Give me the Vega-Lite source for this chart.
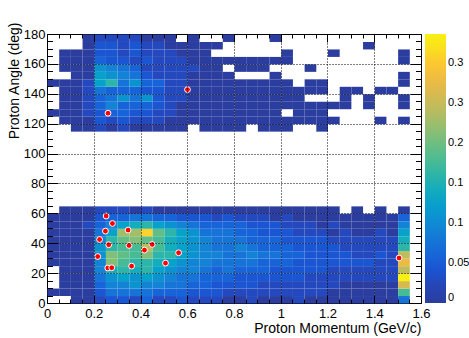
{
"$schema": "https://vega.github.io/schema/vega-lite/v6.json",
"width": 374, "height": 269,
"autosize": {"type": "none"},
"padding": {"left": 47, "top": 34, "right": 48, "bottom": 35},
"background": "white",
"config": {"view": {"stroke": "black", "strokeWidth": 1}, "font": "Liberation Sans"},
"datasets": {
"h": [
{"p":0.1,"a":0,"v":0.008},{"p":0.15,"a":0,"v":0.008},{"p":0.2,"a":0,"v":0.025},{"p":0.25,"a":0,"v":0.042},{"p":0.3,"a":0,"v":0.042},{"p":0.35,"a":0,"v":0.025},{"p":0.4,"a":0,"v":0.059},{"p":0.45,"a":0,"v":0.025},{"p":0.5,"a":0,"v":0.025},{"p":0.55,"a":0,"v":0.042},{"p":0.6,"a":0,"v":0.025},{"p":0.65,"a":0,"v":0.025},{"p":0.7,"a":0,"v":0.025},{"p":0.75,"a":0,"v":0.008},{"p":0.8,"a":0,"v":0.008},{"p":0.85,"a":0,"v":0.025},{"p":0.9,"a":0,"v":0.008},{"p":0.95,"a":0,"v":0.008},{"p":1,"a":0,"v":0.008},{"p":1.05,"a":0,"v":0.025},{"p":1.1,"a":0,"v":0.008},{"p":1.15,"a":0,"v":0.008},{"p":1.2,"a":0,"v":0.008},{"p":1.25,"a":0,"v":0.008},{"p":1.3,"a":0,"v":0.008},{"p":1.35,"a":0,"v":0.008},{"p":1.4,"a":0,"v":0.008},{"p":1.45,"a":0,"v":0.008},{"p":1.5,"a":0,"v":0.076},
{"p":0,"a":5,"v":0.008},{"p":0.05,"a":5,"v":0.008},{"p":0.1,"a":5,"v":0.008},{"p":0.15,"a":5,"v":0.008},{"p":0.2,"a":5,"v":0.042},{"p":0.25,"a":5,"v":0.076},{"p":0.3,"a":5,"v":0.076},{"p":0.35,"a":5,"v":0.076},{"p":0.4,"a":5,"v":0.076},{"p":0.45,"a":5,"v":0.059},{"p":0.5,"a":5,"v":0.059},{"p":0.55,"a":5,"v":0.059},{"p":0.6,"a":5,"v":0.042},{"p":0.65,"a":5,"v":0.042},{"p":0.7,"a":5,"v":0.042},{"p":0.75,"a":5,"v":0.025},{"p":0.8,"a":5,"v":0.025},{"p":0.85,"a":5,"v":0.025},{"p":0.9,"a":5,"v":0.025},{"p":0.95,"a":5,"v":0.025},{"p":1,"a":5,"v":0.025},{"p":1.05,"a":5,"v":0.025},{"p":1.1,"a":5,"v":0.025},{"p":1.15,"a":5,"v":0.025},{"p":1.2,"a":5,"v":0.008},{"p":1.25,"a":5,"v":0.008},{"p":1.3,"a":5,"v":0.008},{"p":1.35,"a":5,"v":0.008},{"p":1.4,"a":5,"v":0.008},{"p":1.45,"a":5,"v":0.008},{"p":1.5,"a":5,"v":0.176},
{"p":0.05,"a":10,"v":0.008},{"p":0.1,"a":10,"v":0.008},{"p":0.15,"a":10,"v":0.008},{"p":0.2,"a":10,"v":0.059},{"p":0.25,"a":10,"v":0.092},{"p":0.3,"a":10,"v":0.092},{"p":0.35,"a":10,"v":0.109},{"p":0.4,"a":10,"v":0.092},{"p":0.45,"a":10,"v":0.092},{"p":0.5,"a":10,"v":0.076},{"p":0.55,"a":10,"v":0.076},{"p":0.6,"a":10,"v":0.059},{"p":0.65,"a":10,"v":0.059},{"p":0.7,"a":10,"v":0.042},{"p":0.75,"a":10,"v":0.042},{"p":0.8,"a":10,"v":0.042},{"p":0.85,"a":10,"v":0.042},{"p":0.9,"a":10,"v":0.025},{"p":0.95,"a":10,"v":0.025},{"p":1,"a":10,"v":0.025},{"p":1.05,"a":10,"v":0.025},{"p":1.1,"a":10,"v":0.025},{"p":1.15,"a":10,"v":0.025},{"p":1.2,"a":10,"v":0.025},{"p":1.25,"a":10,"v":0.008},{"p":1.3,"a":10,"v":0.008},{"p":1.35,"a":10,"v":0.008},{"p":1.4,"a":10,"v":0.008},{"p":1.45,"a":10,"v":0.008},{"p":1.5,"a":10,"v":0.26},
{"p":0.05,"a":15,"v":0.008},{"p":0.1,"a":15,"v":0.008},{"p":0.15,"a":15,"v":0.008},{"p":0.2,"a":15,"v":0.076},{"p":0.25,"a":15,"v":0.109},{"p":0.3,"a":15,"v":0.126},{"p":0.35,"a":15,"v":0.109},{"p":0.4,"a":15,"v":0.126},{"p":0.45,"a":15,"v":0.109},{"p":0.5,"a":15,"v":0.092},{"p":0.55,"a":15,"v":0.076},{"p":0.6,"a":15,"v":0.076},{"p":0.65,"a":15,"v":0.059},{"p":0.7,"a":15,"v":0.059},{"p":0.75,"a":15,"v":0.059},{"p":0.8,"a":15,"v":0.042},{"p":0.85,"a":15,"v":0.042},{"p":0.9,"a":15,"v":0.042},{"p":0.95,"a":15,"v":0.042},{"p":1,"a":15,"v":0.042},{"p":1.05,"a":15,"v":0.042},{"p":1.1,"a":15,"v":0.025},{"p":1.15,"a":15,"v":0.025},{"p":1.2,"a":15,"v":0.025},{"p":1.25,"a":15,"v":0.025},{"p":1.3,"a":15,"v":0.025},{"p":1.35,"a":15,"v":0.025},{"p":1.4,"a":15,"v":0.025},{"p":1.45,"a":15,"v":0.025},{"p":1.5,"a":15,"v":0.328},
{"p":0.05,"a":20,"v":0.008},{"p":0.1,"a":20,"v":0.008},{"p":0.15,"a":20,"v":0.008},{"p":0.2,"a":20,"v":0.092},{"p":0.25,"a":20,"v":0.143},{"p":0.3,"a":20,"v":0.16},{"p":0.35,"a":20,"v":0.143},{"p":0.4,"a":20,"v":0.16},{"p":0.45,"a":20,"v":0.126},{"p":0.5,"a":20,"v":0.109},{"p":0.55,"a":20,"v":0.092},{"p":0.6,"a":20,"v":0.092},{"p":0.65,"a":20,"v":0.076},{"p":0.7,"a":20,"v":0.059},{"p":0.75,"a":20,"v":0.076},{"p":0.8,"a":20,"v":0.059},{"p":0.85,"a":20,"v":0.059},{"p":0.9,"a":20,"v":0.059},{"p":0.95,"a":20,"v":0.042},{"p":1,"a":20,"v":0.042},{"p":1.05,"a":20,"v":0.042},{"p":1.1,"a":20,"v":0.042},{"p":1.15,"a":20,"v":0.042},{"p":1.2,"a":20,"v":0.025},{"p":1.25,"a":20,"v":0.025},{"p":1.3,"a":20,"v":0.025},{"p":1.35,"a":20,"v":0.025},{"p":1.4,"a":20,"v":0.025},{"p":1.45,"a":20,"v":0.025},{"p":1.5,"a":20,"v":0.244},
{"p":0,"a":25,"v":0.008},{"p":0.05,"a":25,"v":0.008},{"p":0.1,"a":25,"v":0.008},{"p":0.15,"a":25,"v":0.008},{"p":0.2,"a":25,"v":0.092},{"p":0.25,"a":25,"v":0.21},{"p":0.3,"a":25,"v":0.176},{"p":0.35,"a":25,"v":0.16},{"p":0.4,"a":25,"v":0.16},{"p":0.45,"a":25,"v":0.143},{"p":0.5,"a":25,"v":0.126},{"p":0.55,"a":25,"v":0.109},{"p":0.6,"a":25,"v":0.092},{"p":0.65,"a":25,"v":0.092},{"p":0.7,"a":25,"v":0.076},{"p":0.75,"a":25,"v":0.076},{"p":0.8,"a":25,"v":0.076},{"p":0.85,"a":25,"v":0.076},{"p":0.9,"a":25,"v":0.059},{"p":0.95,"a":25,"v":0.059},{"p":1,"a":25,"v":0.059},{"p":1.05,"a":25,"v":0.042},{"p":1.1,"a":25,"v":0.042},{"p":1.15,"a":25,"v":0.042},{"p":1.2,"a":25,"v":0.042},{"p":1.25,"a":25,"v":0.042},{"p":1.3,"a":25,"v":0.042},{"p":1.35,"a":25,"v":0.042},{"p":1.4,"a":25,"v":0.025},{"p":1.45,"a":25,"v":0.025},{"p":1.5,"a":25,"v":0.277},
{"p":0,"a":30,"v":0.008},{"p":0.05,"a":30,"v":0.008},{"p":0.1,"a":30,"v":0.008},{"p":0.15,"a":30,"v":0.008},{"p":0.2,"a":30,"v":0.109},{"p":0.25,"a":30,"v":0.21},{"p":0.3,"a":30,"v":0.193},{"p":0.35,"a":30,"v":0.176},{"p":0.4,"a":30,"v":0.21},{"p":0.45,"a":30,"v":0.16},{"p":0.5,"a":30,"v":0.16},{"p":0.55,"a":30,"v":0.126},{"p":0.6,"a":30,"v":0.109},{"p":0.65,"a":30,"v":0.092},{"p":0.7,"a":30,"v":0.092},{"p":0.75,"a":30,"v":0.076},{"p":0.8,"a":30,"v":0.076},{"p":0.85,"a":30,"v":0.092},{"p":0.9,"a":30,"v":0.076},{"p":0.95,"a":30,"v":0.076},{"p":1,"a":30,"v":0.059},{"p":1.05,"a":30,"v":0.059},{"p":1.1,"a":30,"v":0.042},{"p":1.15,"a":30,"v":0.042},{"p":1.2,"a":30,"v":0.042},{"p":1.25,"a":30,"v":0.042},{"p":1.3,"a":30,"v":0.025},{"p":1.35,"a":30,"v":0.025},{"p":1.4,"a":30,"v":0.042},{"p":1.45,"a":30,"v":0.025},{"p":1.5,"a":30,"v":0.244},
{"p":0,"a":35,"v":0.008},{"p":0.05,"a":35,"v":0.008},{"p":0.1,"a":35,"v":0.008},{"p":0.15,"a":35,"v":0.008},{"p":0.2,"a":35,"v":0.109},{"p":0.25,"a":35,"v":0.16},{"p":0.3,"a":35,"v":0.176},{"p":0.35,"a":35,"v":0.176},{"p":0.4,"a":35,"v":0.244},{"p":0.45,"a":35,"v":0.176},{"p":0.5,"a":35,"v":0.143},{"p":0.55,"a":35,"v":0.126},{"p":0.6,"a":35,"v":0.109},{"p":0.65,"a":35,"v":0.092},{"p":0.7,"a":35,"v":0.076},{"p":0.75,"a":35,"v":0.076},{"p":0.8,"a":35,"v":0.092},{"p":0.85,"a":35,"v":0.076},{"p":0.9,"a":35,"v":0.059},{"p":0.95,"a":35,"v":0.059},{"p":1,"a":35,"v":0.059},{"p":1.05,"a":35,"v":0.042},{"p":1.1,"a":35,"v":0.042},{"p":1.15,"a":35,"v":0.042},{"p":1.2,"a":35,"v":0.042},{"p":1.25,"a":35,"v":0.025},{"p":1.3,"a":35,"v":0.025},{"p":1.35,"a":35,"v":0.025},{"p":1.4,"a":35,"v":0.025},{"p":1.45,"a":35,"v":0.025},{"p":1.5,"a":35,"v":0.16},
{"p":0,"a":40,"v":0.008},{"p":0.05,"a":40,"v":0.008},{"p":0.1,"a":40,"v":0.008},{"p":0.15,"a":40,"v":0.008},{"p":0.2,"a":40,"v":0.092},{"p":0.25,"a":40,"v":0.16},{"p":0.3,"a":40,"v":0.193},{"p":0.35,"a":40,"v":0.21},{"p":0.4,"a":40,"v":0.193},{"p":0.45,"a":40,"v":0.176},{"p":0.5,"a":40,"v":0.143},{"p":0.55,"a":40,"v":0.126},{"p":0.6,"a":40,"v":0.109},{"p":0.65,"a":40,"v":0.092},{"p":0.7,"a":40,"v":0.076},{"p":0.75,"a":40,"v":0.076},{"p":0.8,"a":40,"v":0.076},{"p":0.85,"a":40,"v":0.059},{"p":0.9,"a":40,"v":0.059},{"p":0.95,"a":40,"v":0.059},{"p":1,"a":40,"v":0.042},{"p":1.05,"a":40,"v":0.042},{"p":1.1,"a":40,"v":0.042},{"p":1.15,"a":40,"v":0.042},{"p":1.2,"a":40,"v":0.025},{"p":1.25,"a":40,"v":0.025},{"p":1.3,"a":40,"v":0.025},{"p":1.35,"a":40,"v":0.025},{"p":1.4,"a":40,"v":0.025},{"p":1.45,"a":40,"v":0.025},{"p":1.5,"a":40,"v":0.143},
{"p":0,"a":45,"v":0.008},{"p":0.05,"a":45,"v":0.008},{"p":0.1,"a":45,"v":0.008},{"p":0.15,"a":45,"v":0.008},{"p":0.2,"a":45,"v":0.076},{"p":0.25,"a":45,"v":0.126},{"p":0.3,"a":45,"v":0.227},{"p":0.35,"a":45,"v":0.227},{"p":0.4,"a":45,"v":0.311},{"p":0.45,"a":45,"v":0.193},{"p":0.5,"a":45,"v":0.16},{"p":0.55,"a":45,"v":0.126},{"p":0.6,"a":45,"v":0.109},{"p":0.65,"a":45,"v":0.076},{"p":0.7,"a":45,"v":0.076},{"p":0.75,"a":45,"v":0.076},{"p":0.8,"a":45,"v":0.059},{"p":0.85,"a":45,"v":0.059},{"p":0.9,"a":45,"v":0.042},{"p":0.95,"a":45,"v":0.042},{"p":1,"a":45,"v":0.042},{"p":1.05,"a":45,"v":0.025},{"p":1.1,"a":45,"v":0.025},{"p":1.15,"a":45,"v":0.025},{"p":1.2,"a":45,"v":0.008},{"p":1.25,"a":45,"v":0.025},{"p":1.3,"a":45,"v":0.008},{"p":1.35,"a":45,"v":0.008},{"p":1.4,"a":45,"v":0.025},{"p":1.45,"a":45,"v":0.008},{"p":1.5,"a":45,"v":0.126},
{"p":0,"a":50,"v":0.008},{"p":0.05,"a":50,"v":0.008},{"p":0.1,"a":50,"v":0.008},{"p":0.15,"a":50,"v":0.025},{"p":0.2,"a":50,"v":0.059},{"p":0.25,"a":50,"v":0.092},{"p":0.3,"a":50,"v":0.126},{"p":0.35,"a":50,"v":0.143},{"p":0.4,"a":50,"v":0.16},{"p":0.45,"a":50,"v":0.126},{"p":0.5,"a":50,"v":0.109},{"p":0.55,"a":50,"v":0.092},{"p":0.6,"a":50,"v":0.076},{"p":0.65,"a":50,"v":0.059},{"p":0.7,"a":50,"v":0.059},{"p":0.75,"a":50,"v":0.059},{"p":0.8,"a":50,"v":0.059},{"p":0.85,"a":50,"v":0.042},{"p":0.9,"a":50,"v":0.042},{"p":0.95,"a":50,"v":0.042},{"p":1,"a":50,"v":0.025},{"p":1.05,"a":50,"v":0.025},{"p":1.1,"a":50,"v":0.025},{"p":1.15,"a":50,"v":0.008},{"p":1.2,"a":50,"v":0.025},{"p":1.25,"a":50,"v":0.008},{"p":1.3,"a":50,"v":0.008},{"p":1.35,"a":50,"v":0.008},{"p":1.4,"a":50,"v":0.008},{"p":1.45,"a":50,"v":0.008},{"p":1.5,"a":50,"v":0.092},
{"p":0,"a":55,"v":0.008},{"p":0.05,"a":55,"v":0.008},{"p":0.1,"a":55,"v":0.008},{"p":0.15,"a":55,"v":0.008},{"p":0.2,"a":55,"v":0.042},{"p":0.25,"a":55,"v":0.059},{"p":0.3,"a":55,"v":0.059},{"p":0.35,"a":55,"v":0.076},{"p":0.4,"a":55,"v":0.076},{"p":0.45,"a":55,"v":0.059},{"p":0.5,"a":55,"v":0.059},{"p":0.55,"a":55,"v":0.042},{"p":0.6,"a":55,"v":0.042},{"p":0.65,"a":55,"v":0.042},{"p":0.7,"a":55,"v":0.025},{"p":0.75,"a":55,"v":0.042},{"p":0.8,"a":55,"v":0.025},{"p":0.85,"a":55,"v":0.025},{"p":0.9,"a":55,"v":0.025},{"p":0.95,"a":55,"v":0.008},{"p":1,"a":55,"v":0.025},{"p":1.05,"a":55,"v":0.008},{"p":1.1,"a":55,"v":0.008},{"p":1.15,"a":55,"v":0.008},{"p":1.2,"a":55,"v":0.008},{"p":1.25,"a":55,"v":0.008},{"p":1.3,"a":55,"v":0.008},{"p":1.35,"a":55,"v":0.008},{"p":1.4,"a":55,"v":0.008},{"p":1.45,"a":55,"v":0.008},{"p":1.5,"a":55,"v":0.059},
{"p":0.05,"a":60,"v":0.008},{"p":0.1,"a":60,"v":0.008},{"p":0.15,"a":60,"v":0.008},{"p":0.2,"a":60,"v":0.025},{"p":0.25,"a":60,"v":0.025},{"p":0.3,"a":60,"v":0.025},{"p":0.35,"a":60,"v":0.008},{"p":0.4,"a":60,"v":0.025},{"p":0.45,"a":60,"v":0.008},{"p":0.5,"a":60,"v":0.008},{"p":0.55,"a":60,"v":0.008},{"p":0.6,"a":60,"v":0.008},{"p":0.65,"a":60,"v":0.008},{"p":0.7,"a":60,"v":0.008},{"p":0.75,"a":60,"v":0.008},{"p":0.8,"a":60,"v":0.008},{"p":0.85,"a":60,"v":0.008},{"p":0.9,"a":60,"v":0.008},{"p":0.95,"a":60,"v":0.008},{"p":1,"a":60,"v":0.008},{"p":1.05,"a":60,"v":0.008},{"p":1.1,"a":60,"v":0.008},{"p":1.15,"a":60,"v":0.008},{"p":1.2,"a":60,"v":0.008},{"p":1.3,"a":60,"v":0.008},{"p":1.4,"a":60,"v":0.008},{"p":1.5,"a":60,"v":0.008},
{"p":0.1,"a":115,"v":0.008},{"p":0.15,"a":115,"v":0.008},{"p":0.2,"a":115,"v":0.025},{"p":0.25,"a":115,"v":0.008},{"p":0.3,"a":115,"v":0.025},{"p":0.35,"a":115,"v":0.008},{"p":0.4,"a":115,"v":0.008},{"p":0.45,"a":115,"v":0.008},{"p":0.5,"a":115,"v":0.008},{"p":0.55,"a":115,"v":0.008},{"p":0.65,"a":115,"v":0.008},{"p":0.7,"a":115,"v":0.008},{"p":0.75,"a":115,"v":0.008},{"p":0.8,"a":115,"v":0.008},{"p":0.9,"a":115,"v":0.008},{"p":0.95,"a":115,"v":0.008},{"p":1,"a":115,"v":0.008},{"p":1.15,"a":115,"v":0.008},
{"p":0.05,"a":120,"v":0.008},{"p":0.1,"a":120,"v":0.008},{"p":0.15,"a":120,"v":0.008},{"p":0.2,"a":120,"v":0.042},{"p":0.25,"a":120,"v":0.025},{"p":0.3,"a":120,"v":0.042},{"p":0.35,"a":120,"v":0.025},{"p":0.4,"a":120,"v":0.025},{"p":0.45,"a":120,"v":0.025},{"p":0.5,"a":120,"v":0.008},{"p":0.55,"a":120,"v":0.008},{"p":0.6,"a":120,"v":0.008},{"p":0.65,"a":120,"v":0.008},{"p":0.7,"a":120,"v":0.008},{"p":0.75,"a":120,"v":0.008},{"p":0.8,"a":120,"v":0.008},{"p":0.85,"a":120,"v":0.008},{"p":0.9,"a":120,"v":0.008},{"p":0.95,"a":120,"v":0.008},{"p":1,"a":120,"v":0.008},{"p":1.05,"a":120,"v":0.008},{"p":1.1,"a":120,"v":0.008},{"p":1.15,"a":120,"v":0.008},{"p":1.2,"a":120,"v":0.008},{"p":1.4,"a":120,"v":0.008},{"p":1.5,"a":120,"v":0.008},
{"p":0,"a":125,"v":0.008},{"p":0.05,"a":125,"v":0.008},{"p":0.1,"a":125,"v":0.008},{"p":0.15,"a":125,"v":0.025},{"p":0.2,"a":125,"v":0.042},{"p":0.25,"a":125,"v":0.059},{"p":0.3,"a":125,"v":0.059},{"p":0.35,"a":125,"v":0.042},{"p":0.4,"a":125,"v":0.042},{"p":0.45,"a":125,"v":0.025},{"p":0.5,"a":125,"v":0.025},{"p":0.55,"a":125,"v":0.008},{"p":0.6,"a":125,"v":0.008},{"p":0.65,"a":125,"v":0.008},{"p":0.7,"a":125,"v":0.008},{"p":0.75,"a":125,"v":0.008},{"p":0.8,"a":125,"v":0.008},{"p":0.85,"a":125,"v":0.008},{"p":0.9,"a":125,"v":0.008},{"p":0.95,"a":125,"v":0.008},{"p":1.05,"a":125,"v":0.008},{"p":1.1,"a":125,"v":0.008},{"p":1.15,"a":125,"v":0.008},
{"p":0.05,"a":130,"v":0.008},{"p":0.1,"a":130,"v":0.008},{"p":0.15,"a":130,"v":0.025},{"p":0.2,"a":130,"v":0.059},{"p":0.25,"a":130,"v":0.092},{"p":0.3,"a":130,"v":0.059},{"p":0.35,"a":130,"v":0.059},{"p":0.4,"a":130,"v":0.059},{"p":0.45,"a":130,"v":0.042},{"p":0.5,"a":130,"v":0.025},{"p":0.55,"a":130,"v":0.008},{"p":0.6,"a":130,"v":0.008},{"p":0.65,"a":130,"v":0.008},{"p":0.7,"a":130,"v":0.008},{"p":0.75,"a":130,"v":0.008},{"p":0.8,"a":130,"v":0.008},{"p":0.85,"a":130,"v":0.008},{"p":0.9,"a":130,"v":0.008},{"p":0.95,"a":130,"v":0.008},{"p":1,"a":130,"v":0.008},{"p":1.05,"a":130,"v":0.008},{"p":1.1,"a":130,"v":0.008},{"p":1.15,"a":130,"v":0.008},{"p":1.2,"a":130,"v":0.008},{"p":1.25,"a":130,"v":0.008},{"p":1.35,"a":130,"v":0.008},{"p":1.5,"a":130,"v":0.008},
{"p":0.05,"a":135,"v":0.008},{"p":0.1,"a":135,"v":0.008},{"p":0.15,"a":135,"v":0.025},{"p":0.2,"a":135,"v":0.059},{"p":0.25,"a":135,"v":0.076},{"p":0.3,"a":135,"v":0.109},{"p":0.35,"a":135,"v":0.076},{"p":0.4,"a":135,"v":0.109},{"p":0.45,"a":135,"v":0.042},{"p":0.5,"a":135,"v":0.025},{"p":0.55,"a":135,"v":0.025},{"p":0.6,"a":135,"v":0.008},{"p":0.65,"a":135,"v":0.008},{"p":0.7,"a":135,"v":0.008},{"p":0.75,"a":135,"v":0.008},{"p":0.8,"a":135,"v":0.008},{"p":0.85,"a":135,"v":0.008},{"p":0.9,"a":135,"v":0.008},{"p":0.95,"a":135,"v":0.008},{"p":1,"a":135,"v":0.008},{"p":1.05,"a":135,"v":0.008},{"p":1.25,"a":135,"v":0.008},{"p":1.35,"a":135,"v":0.008},{"p":1.5,"a":135,"v":0.008},
{"p":0.05,"a":140,"v":0.008},{"p":0.1,"a":140,"v":0.008},{"p":0.15,"a":140,"v":0.025},{"p":0.2,"a":140,"v":0.076},{"p":0.25,"a":140,"v":0.059},{"p":0.3,"a":140,"v":0.059},{"p":0.35,"a":140,"v":0.059},{"p":0.4,"a":140,"v":0.042},{"p":0.45,"a":140,"v":0.042},{"p":0.5,"a":140,"v":0.025},{"p":0.55,"a":140,"v":0.025},{"p":0.6,"a":140,"v":0.008},{"p":0.65,"a":140,"v":0.008},{"p":0.7,"a":140,"v":0.008},{"p":0.75,"a":140,"v":0.008},{"p":0.8,"a":140,"v":0.008},{"p":0.85,"a":140,"v":0.008},{"p":0.9,"a":140,"v":0.008},{"p":0.95,"a":140,"v":0.008},{"p":1,"a":140,"v":0.008},{"p":1.05,"a":140,"v":0.008},{"p":1.1,"a":140,"v":0.008},{"p":1.15,"a":140,"v":0.008},{"p":1.25,"a":140,"v":0.008},{"p":1.3,"a":140,"v":0.008},{"p":1.4,"a":140,"v":0.008},{"p":1.45,"a":140,"v":0.008},
{"p":0,"a":145,"v":0.008},{"p":0.05,"a":145,"v":0.008},{"p":0.1,"a":145,"v":0.008},{"p":0.15,"a":145,"v":0.025},{"p":0.2,"a":145,"v":0.126},{"p":0.25,"a":145,"v":0.16},{"p":0.3,"a":145,"v":0.076},{"p":0.35,"a":145,"v":0.109},{"p":0.4,"a":145,"v":0.059},{"p":0.45,"a":145,"v":0.059},{"p":0.5,"a":145,"v":0.025},{"p":0.55,"a":145,"v":0.025},{"p":0.6,"a":145,"v":0.008},{"p":0.65,"a":145,"v":0.008},{"p":0.7,"a":145,"v":0.008},{"p":0.75,"a":145,"v":0.008},{"p":0.8,"a":145,"v":0.008},{"p":0.85,"a":145,"v":0.008},{"p":0.9,"a":145,"v":0.008},{"p":0.95,"a":145,"v":0.008},{"p":1,"a":145,"v":0.008},{"p":1.1,"a":145,"v":0.008},{"p":1.15,"a":145,"v":0.008},{"p":1.5,"a":145,"v":0.008},
{"p":0.1,"a":150,"v":0.008},{"p":0.15,"a":150,"v":0.008},{"p":0.2,"a":150,"v":0.126},{"p":0.25,"a":150,"v":0.109},{"p":0.3,"a":150,"v":0.092},{"p":0.35,"a":150,"v":0.076},{"p":0.4,"a":150,"v":0.042},{"p":0.45,"a":150,"v":0.025},{"p":0.5,"a":150,"v":0.025},{"p":0.55,"a":150,"v":0.025},{"p":0.6,"a":150,"v":0.008},{"p":0.65,"a":150,"v":0.008},{"p":0.7,"a":150,"v":0.008},{"p":0.75,"a":150,"v":0.008},{"p":0.95,"a":150,"v":0.008},{"p":1.5,"a":150,"v":0.008},
{"p":0.05,"a":155,"v":0.008},{"p":0.1,"a":155,"v":0.008},{"p":0.15,"a":155,"v":0.008},{"p":0.2,"a":155,"v":0.109},{"p":0.25,"a":155,"v":0.092},{"p":0.3,"a":155,"v":0.076},{"p":0.35,"a":155,"v":0.059},{"p":0.4,"a":155,"v":0.025},{"p":0.45,"a":155,"v":0.025},{"p":0.5,"a":155,"v":0.025},{"p":0.55,"a":155,"v":0.025},{"p":0.6,"a":155,"v":0.025},{"p":0.65,"a":155,"v":0.008},{"p":0.7,"a":155,"v":0.008},{"p":0.8,"a":155,"v":0.008},{"p":0.85,"a":155,"v":0.008},{"p":0.9,"a":155,"v":0.008},{"p":1.1,"a":155,"v":0.008},
{"p":0.05,"a":160,"v":0.008},{"p":0.1,"a":160,"v":0.008},{"p":0.15,"a":160,"v":0.008},{"p":0.2,"a":160,"v":0.059},{"p":0.25,"a":160,"v":0.042},{"p":0.3,"a":160,"v":0.042},{"p":0.35,"a":160,"v":0.025},{"p":0.4,"a":160,"v":0.042},{"p":0.45,"a":160,"v":0.025},{"p":0.5,"a":160,"v":0.025},{"p":0.55,"a":160,"v":0.025},{"p":0.6,"a":160,"v":0.008},{"p":0.65,"a":160,"v":0.008},{"p":0.7,"a":160,"v":0.008},{"p":0.75,"a":160,"v":0.008},{"p":0.8,"a":160,"v":0.008},{"p":0.85,"a":160,"v":0.008},{"p":0.9,"a":160,"v":0.008},{"p":0.95,"a":160,"v":0.008},{"p":1,"a":160,"v":0.008},{"p":1.5,"a":160,"v":0.008},
{"p":0.05,"a":165,"v":0.008},{"p":0.1,"a":165,"v":0.008},{"p":0.15,"a":165,"v":0.008},{"p":0.2,"a":165,"v":0.042},{"p":0.25,"a":165,"v":0.042},{"p":0.3,"a":165,"v":0.025},{"p":0.35,"a":165,"v":0.042},{"p":0.4,"a":165,"v":0.025},{"p":0.45,"a":165,"v":0.025},{"p":0.5,"a":165,"v":0.025},{"p":0.55,"a":165,"v":0.008},{"p":0.6,"a":165,"v":0.008},{"p":0.65,"a":165,"v":0.008},{"p":1,"a":165,"v":0.008},{"p":1.2,"a":165,"v":0.008},{"p":1.5,"a":165,"v":0.008},
{"p":0.15,"a":170,"v":0.008},{"p":0.2,"a":170,"v":0.042},{"p":0.25,"a":170,"v":0.042},{"p":0.3,"a":170,"v":0.025},{"p":0.35,"a":170,"v":0.042},{"p":0.4,"a":170,"v":0.025},{"p":0.45,"a":170,"v":0.025},{"p":0.5,"a":170,"v":0.008},{"p":0.55,"a":170,"v":0.008},{"p":0.6,"a":170,"v":0.008},{"p":0.65,"a":170,"v":0.008},{"p":0.7,"a":170,"v":0.008},{"p":1.35,"a":170,"v":0.008},
{"p":0.15,"a":175,"v":0.008},{"p":0.2,"a":175,"v":0.025},{"p":0.25,"a":175,"v":0.025},{"p":0.3,"a":175,"v":0.025},{"p":0.35,"a":175,"v":0.025},{"p":0.4,"a":175,"v":0.008},{"p":0.45,"a":175,"v":0.008},{"p":0.5,"a":175,"v":0.008},{"p":0.6,"a":175,"v":0.008},{"p":0.75,"a":175,"v":0.008},{"p":0.95,"a":175,"v":0.008}
],
"pts": [{"p":0.253,"a":58.2},{"p":0.28,"a":53.2},{"p":0.25,"a":48.1},{"p":0.347,"a":48.8},{"p":0.225,"a":42.5},{"p":0.264,"a":39},{"p":0.351,"a":38.5},{"p":0.45,"a":39.2},{"p":0.417,"a":35.4},{"p":0.563,"a":33.6},{"p":0.217,"a":31.1},{"p":0.26,"a":23.4},{"p":0.277,"a":23.6},{"p":0.362,"a":24.7},{"p":0.507,"a":26.7},{"p":1.506,"a":30.1},{"p":0.261,"a":127},{"p":0.601,"a":142.8}]
},
"layer": [
{
"data": {"name": "h"},
"mark": {"type": "rect"},
"encoding": {
"x": {"field": "p", "type": "quantitative", "bin": {"binned": true, "step": 0.05},
 "scale": {"domain": [0, 1.6], "nice": false, "zero": false},
 "axis": {"orient": "bottom", "title": "Proton Momentum (GeV/c)", "domain": false, "zindex": 1,
  "values": [0,0.05,0.1,0.15,0.2,0.25,0.3,0.35,0.4,0.45,0.5,0.55,0.6,0.65,0.7,0.75,0.8,0.85,0.9,0.95,1,1.05,1.1,1.15,1.2,1.25,1.3,1.35,1.4,1.45,1.5,1.55,1.6],
  "tickColor": "black", "tickWidth": 1,
  "tickSize": {"condition": {"test": "abs(datum.value*5-round(datum.value*5))<0.001", "value": -8}, "value": -4},
  "labelExpr": "abs(datum.value*5-round(datum.value*5))<0.001 ? format(datum.value,'~g') : ''",
  "labelFont": "Liberation Sans", "labelFontSize": 13, "labelColor": "black", "labelPadding": 12, "labelFlush": false, "labelOverlap": false, "labelBound": false,
  "grid": true, "gridColor": "black", "gridDash": [1, 2], "gridWidth": 1,
  "gridOpacity": {"condition": {"test": "abs(datum.value*5-round(datum.value*5))<0.001 && datum.value>0.01 && datum.value<1.59", "value": 1}, "value": 0},
  "titleFont": "Liberation Sans", "titleFontSize": 14, "titleFontWeight": "normal", "titleColor": "black",
  "titleAnchor": "end", "titleAlign": "right", "titleBaseline": "alphabetic", "titleY": 29}},
"y": {"field": "a", "type": "quantitative", "bin": {"binned": true, "step": 5},
 "scale": {"domain": [0, 180], "nice": false, "zero": false},
 "axis": {"orient": "left", "title": "Proton Angle (deg)", "domain": false, "zindex": 1,
  "values": [0,5,10,15,20,25,30,35,40,45,50,55,60,65,70,75,80,85,90,95,100,105,110,115,120,125,130,135,140,145,150,155,160,165,170,175,180],
  "tickColor": "black", "tickWidth": 1,
  "tickSize": {"condition": {"test": "datum.value % 20 == 0", "value": -11}, "value": -5.5},
  "labelExpr": "datum.value % 20 == 0 ? format(datum.value,'d') : ''",
  "labelFont": "Liberation Sans", "labelFontSize": 13, "labelColor": "black", "labelPadding": 13, "labelFlush": false, "labelOverlap": false, "labelBound": false,
  "grid": true, "gridColor": "black", "gridDash": [1, 2], "gridWidth": 1,
  "gridOpacity": {"condition": {"test": "datum.value % 20 == 0 && datum.value > 1 && datum.value < 179", "value": 1}, "value": 0},
  "titleFont": "Liberation Sans", "titleFontSize": 14, "titleFontWeight": "normal", "titleColor": "black",
  "titleAnchor": "end", "titleAngle": -90, "titleAlign": "right", "titleBaseline": "alphabetic", "titleX": -29, "titleY": -12}},
"color": {"field": "v", "type": "quantitative",
 "scale": {"type": "linear", "nice": false, "zero": false, "interpolate": "rgb",
  "domain": [0,0.008,0.025,0.042,0.059,0.076,0.092,0.109,0.126,0.143,0.16,0.176,0.193,0.21,0.227,0.244,0.26,0.277,0.294,0.311,0.328,0.336],
  "range": ["#2b3d9f","#2b3d9f","#2448bd","#1a55d2","#1764d8","#1673d8","#1283d5","#0b93d0","#07a2ca","#14adbc","#2cb5a8","#46bb96","#62be87","#82bf78","#a2be69","#bfbc5c","#d6ba51","#ebbb44","#fbc234","#fdd22a","#f8f011","#f8f011"]},
 "legend": {"title": null, "orient": "right", "offset": 3, "padding": 0, "direction": "vertical",
  "gradientLength": 269, "gradientThickness": 21, "gradientStrokeWidth": 0,
  "values": [0, 0.05, 0.1, 0.15, 0.2, 0.25, 0.3], "format": "~g",
  "labelFont": "Liberation Sans", "labelFontSize": 11, "labelColor": "black", "labelOffset": 2, "labelFlush": false, "labelOverlap": false}}
}
},
{
"data": {"name": "pts"},
"mark": {"type": "circle", "size": 34, "color": "#ff0000", "opacity": 1, "stroke": "white", "strokeWidth": 1},
"encoding": {
"x": {"field": "p", "type": "quantitative",
 "axis": {"orient": "top", "title": null, "domain": false, "labels": false, "grid": false, "zindex": 1,
  "values": [0,0.05,0.1,0.15,0.2,0.25,0.3,0.35,0.4,0.45,0.5,0.55,0.6,0.65,0.7,0.75,0.8,0.85,0.9,0.95,1,1.05,1.1,1.15,1.2,1.25,1.3,1.35,1.4,1.45,1.5,1.55,1.6],
  "tickColor": "black", "tickWidth": 1,
  "tickSize": {"condition": {"test": "abs(datum.value*5-round(datum.value*5))<0.001", "value": -8}, "value": -4}}},
"y": {"field": "a", "type": "quantitative",
 "axis": {"orient": "right", "title": null, "domain": false, "labels": false, "grid": false, "zindex": 1,
  "values": [0,5,10,15,20,25,30,35,40,45,50,55,60,65,70,75,80,85,90,95,100,105,110,115,120,125,130,135,140,145,150,155,160,165,170,175,180],
  "tickColor": "black", "tickWidth": 1,
  "tickSize": {"condition": {"test": "datum.value % 20 == 0", "value": -11}, "value": -5.5}}}
}
}
],
"resolve": {"axis": {"x": "independent", "y": "independent"}}
}
